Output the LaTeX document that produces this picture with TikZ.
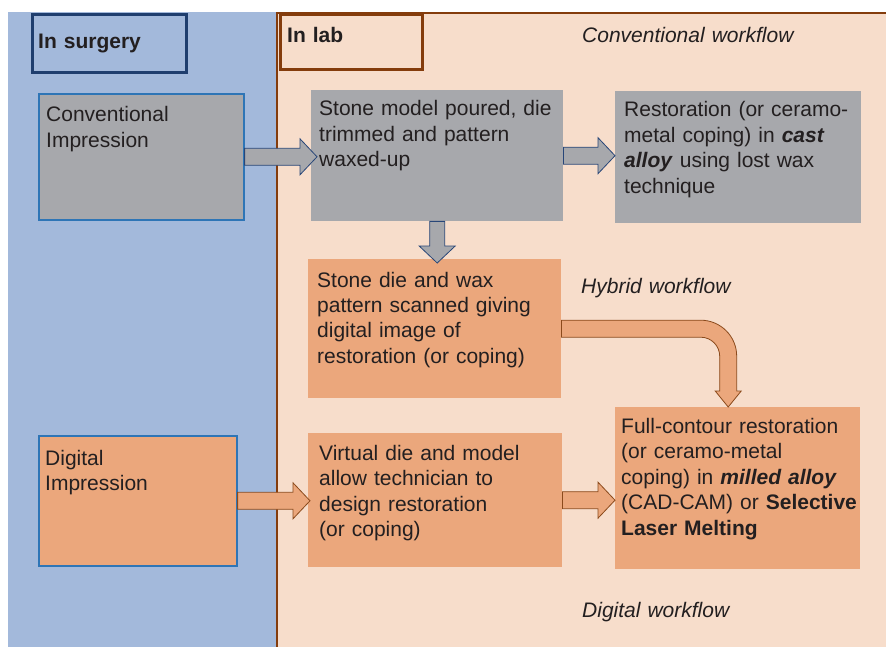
\documentclass[tikz,border=0pt]{standalone}
\usepackage{fontspec}
\setmainfont{Liberation Sans}
\usepackage{tikz}
\usetikzlibrary{calc}

\definecolor{surgbg}{RGB}{163,185,219}
\definecolor{labbg}{RGB}{247,221,203}
\definecolor{stonegray}{RGB}{167,168,172}
\definecolor{digorange}{RGB}{235,167,124}
\definecolor{surgnavy}{RGB}{31,62,110}
\definecolor{labbrown}{RGB}{132,60,12}
\definecolor{impblue}{RGB}{46,117,182}
\definecolor{grayedge}{RGB}{40,70,120}
\definecolor{orangeedge}{RGB}{139,74,28}
\definecolor{inktext}{RGB}{35,31,32}

% horizontal block arrow from one node anchor to another
\newcommand{\blockarrow}[3]{%
  \draw[#1] let \p1=(#2), \p2=(#3) in
    (\x1,\y1+8.5pt) -- (\x2-17pt,\y1+8.5pt) -- (\x2-17pt,\y1+18pt) -- (\x2,\y1)
    -- (\x2-17pt,\y1-18pt) -- (\x2-17pt,\y1-8.5pt) -- (\x1,\y1-8.5pt) -- cycle;}

\begin{document}
\begin{tikzpicture}[x=1pt,y=-1pt,
    txt/.style={inner sep=0pt, anchor=base west, text width=250pt, align=left,
      text=inktext, font=\fontsize{21}{25.5}\selectfont},
    wf/.style={txt, font=\fontsize{21}{25.5}\selectfont\itshape},
    head/.style={txt, font=\fontsize{21}{25.5}\selectfont\bfseries},
    box/.style={inner sep=0pt, anchor=north west},
    graybox/.style={box, fill=stonegray},
    orangebox/.style={box, fill=digorange},
    grayarrow/.style={fill=stonegray, draw=grayedge, line width=0.8pt},
    orangearrow/.style={fill=digorange, draw=orangeedge, line width=0.8pt}]
      \useasboundingbox (0,0) rectangle (886,647);
      \fill[white] (0,0) rectangle (886,647);
      \fill[surgbg] (8,12) rectangle (277,647);
      \fill[labbg] (277,12) rectangle (886,647);
      \draw[labbrown, line width=2.5pt] (277,647) -- (277,13) -- (886,13);

      % headings
      \node[box, draw=surgnavy, line width=3pt, minimum width=154, minimum height=58] (surg) at (30.5,13.5) {};
      \node[head] (surgt) at (38,49) {In surgery};
      \node[box, draw=labbrown, line width=3pt, minimum width=142, minimum height=55] (lab) at (278.5,13.5) {};
      \node[head] (labt) at (287,43) {In lab};

      % boxes
      \node[graybox, draw=impblue, line width=1.6pt, minimum width=205, minimum height=126] (ci) at (38,93) {};
      \node[graybox, minimum width=252, minimum height=131] (sm) at (311,90) {};
      \node[graybox, minimum width=246, minimum height=132] (rest) at (615,91) {};
      \node[orangebox, minimum width=253, minimum height=139] (sd) at (308,259) {};
      \node[orangebox, draw=impblue, line width=1.6pt, minimum width=198, minimum height=130] (di) at (38,435) {};
      \node[orangebox, minimum width=254, minimum height=134] (vd) at (308,433) {};
      \node[orangebox, minimum width=245, minimum height=162] (fc) at (615,407) {};

      % texts
      \node[txt] (cit) at (46,122) {Conventional\\Impression};
      \node[txt] (smt) at (319,116) {Stone model poured, die\\trimmed and pattern\\waxed-up};
      \node[txt] (restt) at (624,117) {Restoration (or ceramo-\\metal coping) in \textbf{\textit{cast}}\\\textbf{\textit{alloy}} using lost wax\\technique};
      \node[txt] (sdt) at (317,287) {Stone die and wax\\pattern scanned giving\\digital image of\\restoration (or coping)};
      \node[txt] (dit) at (45,465) {Digital\\Impression};
      \node[txt] (vdt) at (319,460) {Virtual die and model\\allow technician to\\design restoration\\(or coping)};
      \node[txt] (fct) at (621,433) {Full-contour restoration\\(or ceramo-metal\\coping) in \textbf{\textit{milled alloy}}\\(CAD-CAM) or \textbf{Selective}\\\textbf{Laser Melting}};

      \node[wf] (conv) at (582,43) {Conventional workflow};
      \node[wf] (hyb) at (581,293) {Hybrid workflow};
      \node[wf] (dig) at (582,617) {Digital workflow};

      % arrows
      \blockarrow{grayarrow}{ci.east}{[xshift=6pt]sm.west}
      \blockarrow{grayarrow}{sm.east}{rest.west}
      \blockarrow{orangearrow}{di.east}{[xshift=2pt]vd.west}
      \blockarrow{orangearrow}{vd.east}{fc.west}
      \draw[grayarrow] let \p1=(sm.south), \p2=(sd.north) in
        (\x1-7.5pt,\y1) -- (\x1-7.5pt,\y2+13pt) -- (\x1-18pt,\y2+13pt) -- (\x1,\y2-4pt)
        -- (\x1+18pt,\y2+13pt) -- (\x1+7.5pt,\y2+13pt) -- (\x1+7.5pt,\y1) -- cycle;
      \draw[orangearrow] let \p1=(sd.east), \p2=([xshift=-9.5pt]fc.north) in
        (\x1,\y1+8.5pt) -- (\x2-27.5pt,\y1+8.5pt)
        arc[start angle=90, end angle=0, radius=36pt]
        -- (\x2+8.5pt,\y2+16pt) -- (\x2+13pt,\y2+16pt) -- (\x2,\y2)
        -- (\x2-13pt,\y2+16pt) -- (\x2-8.5pt,\y2+16pt) -- (\x2-8.5pt,\y1-27.5pt)
        arc[start angle=0, end angle=90, radius=19pt]
        -- (\x1,\y1-8.5pt) -- cycle;
    \end{tikzpicture}
\end{document}
